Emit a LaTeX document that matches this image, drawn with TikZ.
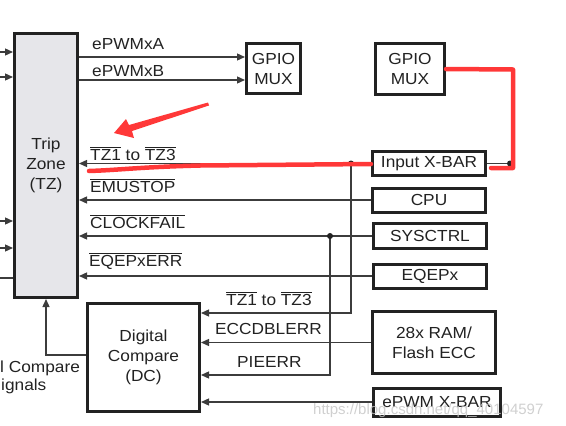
\documentclass[tikz,border=0pt]{standalone}
\usepackage{fontspec}
\setmainfont{Liberation Sans}[FakeStretch=1.08]
\newfontfamily\wmfont{Liberation Sans}
\usetikzlibrary{arrows.meta}
\definecolor{ink}{HTML}{222222}
\definecolor{wire}{HTML}{3C3C3C}
\definecolor{tzfill}{HTML}{E6E6EA}
\definecolor{markred}{HTML}{FF3838}
\definecolor{wmark}{HTML}{C4C4C4}
\newcommand{\ovl}[1]{$\overline{\mbox{#1}}$}
\begin{document}
\begin{tikzpicture}[x=1pt,y=-1pt,
  every node/.style={font=\fontsize{16}{20}\selectfont, text=ink, inner sep=0pt},
  box/.style={draw=ink, line width=3pt, fill=white, align=center},
  sig/.style={draw=wire, line width=1.3pt},
  tip/.style={-{Triangle[length=8pt,width=7pt]}},
  lbl/.style={anchor=base west},
  dot/.style={circle, fill=ink, minimum size=6pt, inner sep=0pt},
  redline/.style={draw=markred, line width=4.5pt, line cap=round, line join=round}]
\useasboundingbox (0,0) rectangle (566,426);

% boxes
\node[box, fill=tzfill, minimum width=63pt, minimum height=264pt] (tz) at (46,165.5) {Trip\\Zone\\(TZ)};
\node[box, minimum width=54pt, minimum height=50pt] (gpio1) at (273.5,68.5) {GPIO\\MUX};
\node[box, minimum width=69pt, minimum height=51pt] (gpio2) at (410,69) {GPIO\\MUX};
\node[box, minimum width=113pt, minimum height=24pt] (ixbar) at (429,163.5) {Input X-BAR};
\node[box, minimum width=113pt, minimum height=24pt] (cpu) at (429,200) {CPU};
\node[box, minimum width=113pt, minimum height=25pt] (sysctrl) at (430,236) {SYSCTRL};
\node[box, minimum width=113pt, minimum height=24pt] (eqepx) at (430,276) {EQEPx};
\node[box, minimum width=123pt, minimum height=62pt] (ram) at (434,342.5) {28x RAM/\\Flash ECC};
\node[box, minimum width=127pt, minimum height=28pt] (exbar) at (437,402) {ePWM X-BAR};
\node[box, minimum width=112pt, minimum height=108pt] (dc) at (143.5,357.5) {Digital\\Compare\\(DC)};

% free-end coordinates
\coordinate (ya) at (0,57);
\coordinate (yb) at (0,80);
\coordinate (in1) at (0,52);
\coordinate (in2) at (0,77);
\coordinate (in3) at (0,221);
\coordinate (in4) at (0,248);
\coordinate (in5) at (0,278);
\coordinate (j1) at (351,163.5);
\coordinate (j1b) at (351,313);
\coordinate (j2) at (330,236);
\coordinate (j2b) at (330,375);
\coordinate (jr) at (510,163.5);
\coordinate (dcout) at (0,355);

% TZ outputs
\draw[sig, tip] (tz.east |- ya) -- (gpio1.west |- ya);
\draw[sig, tip] (tz.east |- yb) -- (gpio1.west |- yb);

% TZ inputs from right
\draw[sig, tip] (ixbar.west) -- (tz.east |- ixbar.west);
\draw[sig, tip] (cpu.west) -- (tz.east |- cpu.west);
\draw[sig, tip] (sysctrl.west) -- (tz.east |- sysctrl.west);
\draw[sig, tip] (eqepx.west) -- (tz.east |- eqepx.west);

% left inputs
\draw[sig, tip] (in1) -- (tz.west |- in1);
\draw[sig, tip] (in2) -- (tz.west |- in2);
\draw[sig, tip] (in3) -- (tz.west |- in3);
\draw[sig, tip] (in4) -- (tz.west |- in4);
\draw[sig] (in5) -- (tz.west |- in5);

% DC inputs
\draw[sig, tip] (j1) -- (j1b) -- (dc.east |- j1b);
\draw[sig, tip] (ram.west) -- (dc.east |- ram.west);
\draw[sig, tip] (j2) -- (j2b) -- (dc.east |- j2b);
\draw[sig, tip] (exbar.west) -- (dc.east |- exbar.west);
\node[dot] (d1) at (j1) {};
\node[dot] (d2) at (j2) {};

% DC to TZ
\draw[sig, tip] (dc.west |- dcout) -| (tz.south);

% right side of input x-bar
\draw[sig] (ixbar.east) -- (jr);
\node[dot] (d3) at (jr) {};

% labels
\node[lbl] (lA) at (92,49) {ePWMxA};
\node[lbl] (lB) at (92,76) {ePWMxB};
\node[lbl] (lT) at (90,160) {\ovl{TZ1} to \ovl{TZ3}};
\node[lbl] (lE) at (90,192) {\ovl{EMUSTOP}};
\node[lbl] (lC) at (90,228) {\ovl{CLOCKFAIL}};
\node[lbl] (lQ) at (89,266) {\ovl{EQEPxERR}};
\node[lbl] (lT2) at (226,305) {\ovl{TZ1} to \ovl{TZ3}};
\node[lbl] (lR) at (215,334) {ECCDBLERR};
\node[lbl] (lP) at (237,367) {PIEERR};
\node[lbl] (lS1) at (0,372) {l Compare};
\node[lbl] (lS2) at (1,390) {ignals};

% red annotations
\draw[redline] (89,171) .. controls (120,170) and (140,167) .. (200,165.5) -- (371,164);
\draw[redline] (gpio2.east) -- (513,69.5) -- (513,168) -- (491,168);
\fill[markred] (114,133) -- (126,119) -- (129,125) -- (208,102.5) -- (209,105.5) -- (132,131) -- (134,138) -- cycle;

% watermark
\node[lbl, text=wmark, opacity=0.8, font=\wmfont\fontsize{15}{18}\selectfont] (wm) at (313,414) {https://blog.csdn.net/qq\_40104597};
\end{tikzpicture}
\end{document}
